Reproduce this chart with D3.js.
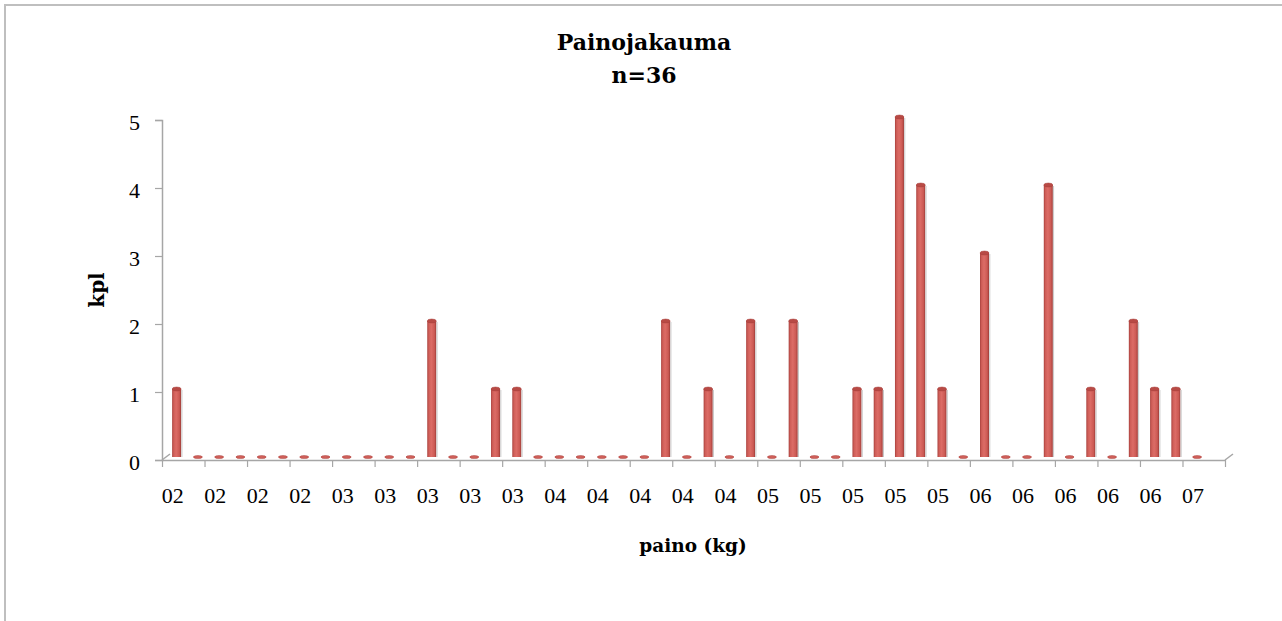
<!DOCTYPE html>
<html>
<head>
<meta charset="utf-8">
<script src="https://cdn.jsdelivr.net/npm/d3@7"></script>
<style>
  body { margin: 0; background: #fff; }
  svg { display: block; }
  .tick-label { font-family: "Liberation Serif", serif; font-size: 22px; fill: #000; }
  .bold-label { font-family: "DejaVu Serif", serif; font-weight: bold; fill: #000; }
</style>
</head>
<body>
<div id="chart"></div>
<script>
const width = 1282;
const height = 621;

// weight classes: one label for every second category
const tickLabels = ["02","02","02","02","03","03","03","03","03",
                    "04","04","04","04","04","05","05","05","05","05",
                    "06","06","06","06","06","07"];
// number of fish (kpl) per category
const counts = [1,0,0,0,0,0,0,0,0,0,
                0,0,2,0,0,1,1,0,0,0,
                0,0,0,2,0,1,0,2,0,2,
                0,0,1,1,5,4,1,0,3,0,
                0,4,0,1,0,2,1,1,0,null];
const yTicks = [0,1,2,3,4,5];

const plot = {left: 162, right: 1225, top: 120, bottom: 460};
const depth = {dx: 8, dy: -6};   // 3d floor offset

const svg = d3.select("#chart").append("svg")
    .attr("width", width)
    .attr("height", height);

// outer frame (only top/left edges show)
svg.append("rect")
    .attr("x", 5).attr("y", 5)
    .attr("width", width + 10).attr("height", height + 10)
    .attr("fill", "none")
    .attr("stroke", "#bfbfbf")
    .attr("stroke-width", 2);

const x = d3.scaleBand()
    .domain(d3.range(counts.length))
    .range([plot.left, plot.right]);
const xTick = d3.scaleLinear()
    .domain([0, counts.length])
    .range([plot.left, plot.right]);
const y = d3.scaleLinear()
    .domain([0, 5])
    .range([plot.bottom, plot.top]);

const defs = svg.append("defs");
const grad = defs.append("linearGradient").attr("id", "barGrad")
    .attr("x1", "0%").attr("x2", "100%");
[["0%", "#a8403c"], ["18%", "#cf5e58"], ["45%", "#dc6c66"],
 ["80%", "#cc5a54"], ["100%", "#9c3b37"]].forEach(s =>
    grad.append("stop").attr("offset", s[0]).attr("stop-color", s[1]));

// floor edges (3d corners)
const axisColor = "#a6a6a6";
svg.append("line")
    .attr("x1", plot.left).attr("y1", plot.bottom)
    .attr("x2", plot.left + depth.dx).attr("y2", plot.bottom + depth.dy)
    .attr("stroke", axisColor).attr("stroke-width", 1.5);
svg.append("line")
    .attr("x1", plot.right).attr("y1", plot.bottom)
    .attr("x2", plot.right + depth.dx).attr("y2", plot.bottom + depth.dy)
    .attr("stroke", axisColor).attr("stroke-width", 1.5);

// y axis
const yAxis = svg.append("g")
    .attr("transform", `translate(${plot.left},0)`)
    .call(d3.axisLeft(y).tickValues(yTicks).tickSize(7).tickPadding(15).tickFormat(d3.format("d")));
yAxis.select(".domain").attr("stroke", axisColor).attr("stroke-width", 1.5);
yAxis.selectAll(".tick line").attr("stroke", axisColor).attr("stroke-width", 1.2);
yAxis.selectAll(".tick text")
    .attr("class", "tick-label")
    .attr("font-family", null).attr("font-size", null)
    .attr("dy", "0.42em");

// x axis: tick marks every second category
const xAxis = svg.append("g")
    .attr("transform", `translate(0,${plot.bottom})`)
    .call(d3.axisBottom(xTick).tickValues(d3.range(0, counts.length + 1, 2)).tickSize(7).tickSizeOuter(0).tickFormat(""));
xAxis.select(".domain").attr("stroke", axisColor).attr("stroke-width", 1.5);
xAxis.selectAll(".tick line").attr("stroke", axisColor).attr("stroke-width", 1.2);

svg.append("g").selectAll("text")
    .data(tickLabels)
    .join("text")
    .attr("class", "tick-label")
    .attr("text-anchor", "middle")
    .attr("x", (d, i) => x(i * 2) + x.bandwidth() / 2)
    .attr("y", 503)
    .text(d => d);

// bars (cylinders) placed in the middle of the 3d floor
const barW = 9;
const ry = 2;
const bx = i => x(i) + x.bandwidth() / 2 + depth.dx / 2;
const base = plot.bottom + depth.dy / 2;
const valid = counts.map((v, i) => ({v, i})).filter(d => d.v !== null);

const bars = svg.append("g");
bars.selectAll("rect")
    .data(valid.filter(d => d.v > 0))
    .join("rect")
    .attr("x", d => bx(d.i) - barW / 2)
    .attr("y", d => y(d.v) + depth.dy / 2)
    .attr("width", barW)
    .attr("height", d => base - (y(d.v) + depth.dy / 2))
    .attr("fill", "url(#barGrad)");
bars.selectAll("line")
    .data(valid.filter(d => d.v > 0))
    .join("line")
    .attr("x1", d => bx(d.i) + barW / 2 + 0.8)
    .attr("x2", d => bx(d.i) + barW / 2 + 0.8)
    .attr("y1", d => y(d.v) + depth.dy / 2 + 1)
    .attr("y2", base)
    .attr("stroke", "#c8c8c8")
    .attr("stroke-width", 1);
bars.selectAll("ellipse")
    .data(valid)
    .join("ellipse")
    .attr("cx", d => bx(d.i))
    .attr("cy", d => d.v > 0 ? y(d.v) + depth.dy / 2 : base)
    .attr("rx", barW / 2)
    .attr("ry", d => d.v > 0 ? ry : 1.5)
    .attr("fill", d => d.v > 0 ? "#b84a45" : "#d0605a")
    .attr("stroke", "#a8403c")
    .attr("stroke-width", 0.5);

// titles
svg.append("text")
    .attr("class", "bold-label")
    .attr("text-anchor", "middle")
    .attr("x", 644).attr("y", 50)
    .attr("font-size", 22)
    .text("Painojakauma");
svg.append("text")
    .attr("class", "bold-label")
    .attr("text-anchor", "middle")
    .attr("x", 644).attr("y", 83)
    .attr("font-size", 22)
    .text("n=36");

svg.append("text")
    .attr("class", "bold-label")
    .attr("text-anchor", "middle")
    .attr("x", 693).attr("y", 552)
    .attr("font-size", 18.5)
    .text("paino (kg)");

svg.append("text")
    .attr("class", "bold-label")
    .attr("text-anchor", "middle")
    .attr("transform", `translate(104,${(plot.top + plot.bottom) / 2}) rotate(-90)`)
    .attr("font-size", 20)
    .text("kpl");
</script>
</body>
</html>
